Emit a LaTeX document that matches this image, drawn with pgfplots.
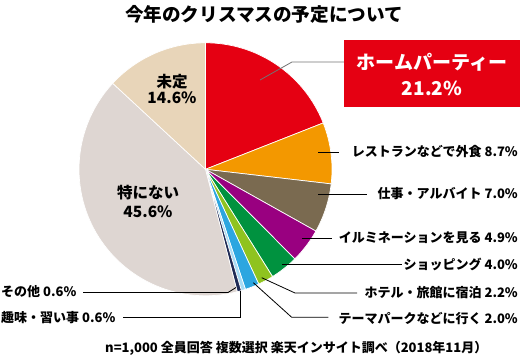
\documentclass[border=0pt]{standalone}
\usepackage{fontspec}
\setmainfont{Noto Sans CJK JP}
\usepackage{pgfplots}
\usepackage{pgfplotstable}
\pgfplotsset{compat=1.18}

\definecolor{pc0}{HTML}{E50012}
\definecolor{pc1}{HTML}{F39800}
\definecolor{pc2}{HTML}{7A6A50}
\definecolor{pc3}{HTML}{990080}
\definecolor{pc4}{HTML}{00923F}
\definecolor{pc5}{HTML}{8FC31F}
\definecolor{pc6}{HTML}{2CA6E0}
\definecolor{pc7}{HTML}{A8DCF5}
\definecolor{pc8}{HTML}{1F2B55}
\definecolor{pc9}{HTML}{DED6D2}
\definecolor{pc10}{HTML}{E8D5B9}

% values (%), clockwise from 12 o'clock; multiple answers, so the pie is normalised by their total
\pgfplotstableread{
idx value
0 21.2
1 8.7
2 7.0
3 4.9
4 4.0
5 2.2
6 2.0
7 0.6
8 0.6
9 45.6
10 14.6
}\piedata

\xdef\pietotal{0}
\pgfplotstableforeachcolumnelement{value}\of\piedata\as\v{%
  \pgfmathsetmacro\tmpt{\pietotal+\v}\xdef\pietotal{\tmpt}}
\xdef\piecum{0}
\pgfplotstableforeachcolumnelement{value}\of\piedata\as\v{%
  \pgfmathsetmacro\tmpa{90-\piecum/\pietotal*360}%
  \pgfmathsetmacro\tmpc{\piecum+\v}%
  \pgfmathsetmacro\tmpb{90-\tmpc/\pietotal*360}%
  \expandafter\xdef\csname pieS\pgfplotstablerow\endcsname{\tmpa}%
  \expandafter\xdef\csname pieE\pgfplotstablerow\endcsname{\tmpb}%
  \xdef\piecum{\tmpc}}

\def\cx{205.5}
\def\cy{169.3}
\def\R{126.5}

\begin{document}
\begin{tikzpicture}
\begin{axis}[width=520pt,height=358pt,scale only axis,
  xmin=0,xmax=520,ymin=0,ymax=358,y dir=reverse,hide axis,clip=false]
\pgfplotsinvokeforeach{0,...,10}{%
  \edef\tmpplot{\noexpand\addplot[draw=white,line width=0.7pt,fill=pc#1,
     domain=\csname pieE#1\endcsname:\csname pieS#1\endcsname,samples=80,variable=\noexpand\t]
     ({\cx+\R*cos(\noexpand\t)},{\cy-\R*sin(\noexpand\t)}) -- (axis cs:\cx,\cy) -- cycle;}%
  \tmpplot
}
% title
\node[font=\bfseries\fontsize{18.6}{20}\selectfont] at (axis cs:264,14) {今年のクリスマスの予定について};
% red callout
\fill[pc0] (axis cs:344,40) rectangle (axis cs:520,107);
\node[font=\bfseries\fontsize{19}{20}\selectfont,text=white] at (axis cs:432,62) {ホームパーティー};
\node[font=\bfseries\fontsize{19}{20}\selectfont,text=white] at (axis cs:432,88) {21.2\%};
\draw[gray!90!black,line width=0.8pt] (axis cs:260,80) -- (axis cs:292,62) -- (axis cs:344,62);
% inside labels
\node[font=\bfseries\fontsize{15.5}{17}\selectfont] at (axis cs:172,82) {未定};
\node[font=\bfseries\fontsize{15.5}{17}\selectfont] at (axis cs:172,98) {14.6\%};
\node[font=\bfseries\fontsize{15.5}{17}\selectfont] at (axis cs:148,193) {特にない};
\node[font=\bfseries\fontsize{15.5}{17}\selectfont] at (axis cs:148,212) {45.6\%};
% right labels
\begin{scope}[every node/.style={font=\bfseries\fontsize{13}{14}\selectfont,anchor=east,inner sep=0pt}]
\node at (axis cs:518,151.5) {レストランなどで外食 8.7\%};
\node at (axis cs:518,194) {仕事・アルバイト 7.0\%};
\node at (axis cs:518,238) {イルミネーションを見る 4.9\%};
\node at (axis cs:518,264.5) {ショッピング 4.0\%};
\node at (axis cs:518,292.5) {ホテル・旅館に宿泊 2.2\%};
\node at (axis cs:518,318.5) {テーマパークなどに行く 2.0\%};
\end{scope}
\begin{scope}[every node/.style={font=\bfseries\fontsize{13}{14}\selectfont,anchor=west,inner sep=0pt}]
\node at (axis cs:1,292) {その他 0.6\%};
\node at (axis cs:1,318) {趣味・習い事 0.6\%};
\node at (axis cs:105,348) {n=1,000 全員回答 複数選択 楽天インサイト調べ（2018年11月）};
\end{scope}
% leader lines
\begin{scope}[line width=0.8pt]
\draw (axis cs:318,152) -- (axis cs:339,152);
\draw (axis cs:318,194) -- (axis cs:367,194);
\draw (axis cs:302,238) -- (axis cs:332,238);
\draw (axis cs:282,264) -- (axis cs:402,264);
\draw (axis cs:261.7,277.7) -- (axis cs:295,293) -- (axis cs:357,293);
\draw (axis cs:253.3,282.7) -- (axis cs:291.7,317.3) -- (axis cs:328.3,317.3);
\draw (axis cs:83,292.5) -- (axis cs:228,292.5) -- (axis cs:236,287.5);
\draw (axis cs:123,317.3) -- (axis cs:240.5,317.3) -- (axis cs:240.5,291);
\end{scope}
\end{axis}
\pgfresetboundingbox
\path (0,0) rectangle (520pt,358pt);
\end{tikzpicture}
\end{document}
